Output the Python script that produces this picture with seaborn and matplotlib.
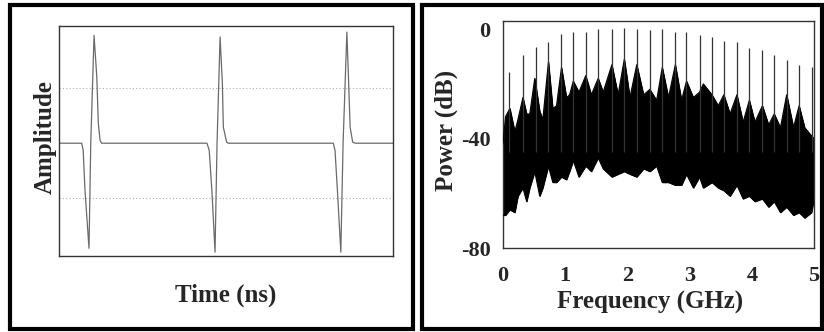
import matplotlib
matplotlib.use("Agg")
import matplotlib.pyplot as plt
from matplotlib.patches import Rectangle
import seaborn as sns
import pandas as pd

# ---------------- data ----------------
# Left panel: pulse train (time in ns, normalised amplitude)
time_ns = [0.00, 0.90, 0.96, 1.03, 1.19, 1.26, 1.39, 1.50, 1.56, 1.63, 1.69,
           5.87, 5.96, 6.07, 6.19, 6.27, 6.39, 6.48, 6.52, 6.65, 6.71,
           10.88, 10.95, 11.05, 11.18, 11.27, 11.42, 11.49, 11.55, 11.65, 11.75, 13.25]
amplitude = [0.00, 0.00, -0.13, -0.85, -1.91, 0.00, 1.96, 1.20, 0.36, 0.05, 0.00,
             0.00, -0.13, -0.90, -1.98, 0.00, 1.93, 1.10, 0.29, 0.02, 0.00,
             0.00, -0.13, -0.90, -1.98, 0.00, 2.02, 1.10, 0.29, 0.02, 0.00, 0.00]

# Right panel: comb lines of the spectrum
comb_freq = [0.10, 0.32, 0.53, 0.73, 0.94, 1.13, 1.33, 1.53, 1.75, 1.95, 2.15, 2.36, 2.56,
             2.77, 2.95, 3.16, 3.36, 3.55, 3.76, 3.96, 4.17, 4.36, 4.56, 4.76, 4.96]
comb_db = [-15.6, -9.5, -6.4, -4.6, -1.9, -1.0, -1.0, 0.0, 0.0, 0.5, 0.0, -0.4, 0.0,
           -1.0, -1.0, -2.0, -2.8, -4.4, -4.6, -7.0, -7.7, -9.5, -11.3, -13.0, -14.0]

# Right panel: envelope of the noisy background (upper / lower edge)
noise_freq = [0.00, 0.04, 0.11, 0.19, 0.24, 0.32, 0.38, 0.43, 0.51, 0.59, 0.64, 0.73, 0.80,
              0.86, 0.94, 1.02, 1.07, 1.13, 1.22, 1.33, 1.42, 1.53, 1.61, 1.75, 1.85, 1.95,
              2.04, 2.15, 2.26, 2.36, 2.47, 2.56, 2.66, 2.77, 2.87, 2.95, 3.06, 3.16, 3.22,
              3.36, 3.46, 3.55, 3.65, 3.76, 3.86, 3.96, 4.05, 4.17, 4.27, 4.36, 4.46, 4.56,
              4.67, 4.76, 4.85, 4.96, 5.00]
noise_upper = [-42, -32, -29, -37.5, -33, -25, -31, -31, -18, -30, -33, -12, -29,
               -28, -14, -25, -24, -19, -23, -17, -24, -18, -23, -13, -24, -11,
               -25, -13, -24, -22, -26, -14, -25, -13, -26, -19, -25, -23, -20,
               -24, -28, -24, -31, -24, -34, -26, -34, -28, -35, -31, -36, -24,
               -36, -28, -36, -39, -40]
noise_lower = [-68, -68, -66, -67, -61, -58, -63, -58, -52, -61, -58, -50, -56,
               -56, -54, -55, -52, -48, -54, -50, -52, -47, -51, -54, -53, -52,
               -53, -54, -51, -52, -50, -56, -56, -57, -57, -53, -58, -54, -58,
               -56, -58, -59, -61, -57, -62, -61, -63, -62, -65, -63, -67, -65,
               -68, -67, -69, -67, -62]

freq_ticks = [0, 1, 2, 3, 4, 5]
power_ticks = [-80, -40, 0]

# ---------------- style ----------------
sns.set_theme(style="white")
plt.rcParams["font.family"] = ["Liberation Serif", "DejaVu Serif"]
plt.rcParams["font.weight"] = "bold"

W, H = 824, 332
fig = plt.figure(figsize=(W / 100, H / 100), dpi=100)

def fx(px):
    return px / W

def fy(px):
    return 1 - px / H

LABEL_FS = 18
TICK_FS = 16

# ---------------- left panel ----------------
axL = fig.add_axes([fx(59), fy(256), fx(393 - 59), (256 - 26) / H])
wave = pd.DataFrame({"t": time_ns, "a": amplitude})
for g in (1, -1):
    axL.axhline(g, color="#b0b0b0", lw=0.8, ls=(0, (1, 2)), zorder=0)
sns.lineplot(data=wave, x="t", y="a", ax=axL, sort=False, estimator=None,
             color="#6a6a6a", lw=0.9)
axL.set_xlim(0, 13.25)
axL.set_ylim(-2.05, 2.13)
axL.set_xticks([])
axL.set_yticks([])
for s in axL.spines.values():
    s.set_color("#333333")
    s.set_linewidth(1.0)
axL.set_xlabel("Time (ns)", fontsize=LABEL_FS, fontweight="bold", va="center")
axL.xaxis.set_label_coords(0.5, -0.170)
axL.set_ylabel("Amplitude", fontsize=LABEL_FS, fontweight="bold", va="center")
axL.yaxis.set_label_coords(-0.042, 0.515)

# ---------------- right panel ----------------
axR = fig.add_axes([fx(503), fy(248), fx(814 - 503), (248 - 21) / H])
axR.fill_between(noise_freq, noise_lower, noise_upper, color="black", lw=0.6,
                 edgecolor="black", zorder=2)
env = pd.DataFrame({"f": noise_freq + noise_freq,
                    "p": noise_upper + noise_lower,
                    "edge": ["upper"] * len(noise_freq) + ["lower"] * len(noise_freq)})
sns.lineplot(data=env, x="f", y="p", units="edge", estimator=None, sort=False,
             ax=axR, color="black", lw=0.8, zorder=3)
comb_base = [-45] * len(comb_freq)
axR.vlines(comb_freq, comb_base, comb_db, color="#333333", lw=0.9, zorder=4)
axR.set_xlim(0, 5)
axR.set_ylim(-80, 3)
axR.set_xticks(freq_ticks)
axR.set_xticklabels([str(v) for v in freq_ticks], fontsize=TICK_FS, fontweight="bold")
axR.set_yticks(power_ticks)
axR.set_yticklabels([str(v) for v in power_ticks], fontsize=TICK_FS, fontweight="bold")
axR.tick_params(axis="x", length=0, pad=13)
axR.tick_params(axis="y", length=0, pad=9)
for s in axR.spines.values():
    s.set_color("#333333")
    s.set_linewidth(1.0)
axR.set_xlabel("Frequency (GHz)", fontsize=LABEL_FS, fontweight="bold", va="center")
axR.xaxis.set_label_coords(0.473, -0.242)
axR.set_ylabel("Power (dB)", fontsize=LABEL_FS, fontweight="bold", va="center")
axR.yaxis.set_label_coords(-0.183, 0.52)

# ---------------- panel frames ----------------
for x0, x1 in ((10, 413), (422, 822)):
    fig.patches.append(Rectangle((fx(x0), fy(329)), fx(x1 - x0), (329 - 5) / H,
                                 transform=fig.transFigure, fill=False,
                                 ec="black", lw=3))

fig.savefig("out.png", dpi=100)
